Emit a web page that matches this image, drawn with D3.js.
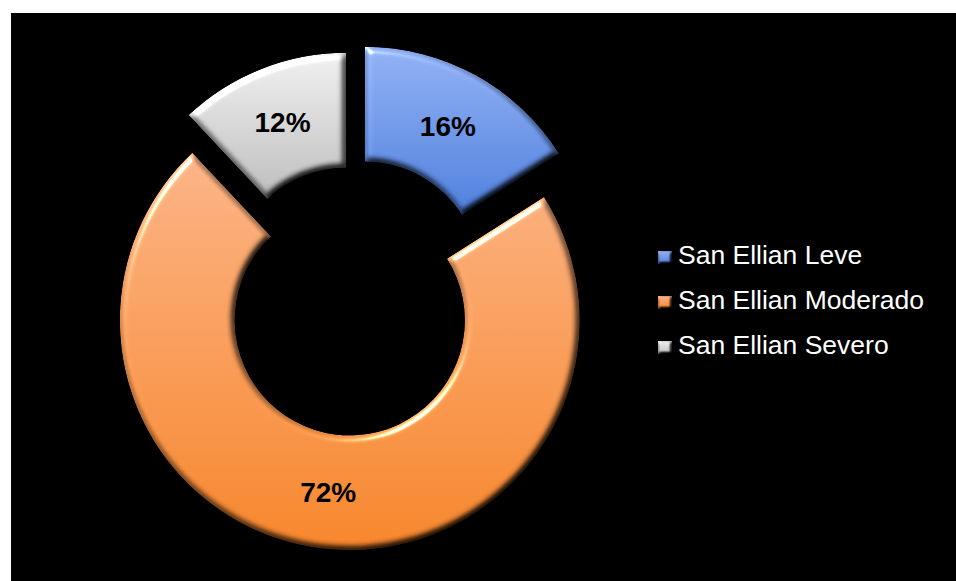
<!DOCTYPE html>
<html>
<head>
<meta charset="utf-8">
<script src="https://cdn.jsdelivr.net/npm/d3@7"></script>
<style>
  html, body { margin: 0; padding: 0; background: #ffffff; }
  svg { display: block; }
</style>
</head>
<body>
<svg id="chart" width="956" height="581"></svg>
<script>
// Severity categories and their share of cases (percent)
const categories = ["San Ellian Leve", "San Ellian Moderado", "San Ellian Severo"];
const values = [16, 72, 12];
const valueLabels = ["16%", "72%", "12%"];

// Per-category gradient (top colour, bottom colour)
const topColors = ["#93b1f4", "#fbb487", "#f0f0f0"];
const bottomColors = ["#4f80dd", "#f6862c", "#bdbdbd"];

const W = 956, H = 581;
const svg = d3.select("#chart");
const defs = svg.append("defs");

// Bevel: blurred alpha as a height map, darkened on the far side, glossed on the near side
const bevel = defs.append("filter")
  .attr("id", "bevel")
  .attr("x", "-5%").attr("y", "-5%").attr("width", "110%").attr("height", "110%")
  .attr("color-interpolation-filters", "sRGB");
bevel.append("feGaussianBlur").attr("in", "SourceAlpha").attr("stdDeviation", 3.5).attr("result", "blur");
bevel.append("feDiffuseLighting")
  .attr("in", "blur").attr("surfaceScale", 6).attr("diffuseConstant", 1.155)
  .attr("lighting-color", "#ffffff").attr("result", "diff")
  .append("feDistantLight").attr("azimuth", 235).attr("elevation", 60);
bevel.append("feComposite").attr("in", "SourceGraphic").attr("in2", "diff")
  .attr("operator", "arithmetic").attr("k1", 1).attr("result", "shaded");
bevel.append("feSpecularLighting")
  .attr("in", "blur").attr("surfaceScale", 6).attr("specularConstant", 0.9)
  .attr("specularExponent", 30).attr("lighting-color", "#ffffff").attr("result", "spec")
  .append("feDistantLight").attr("azimuth", 235).attr("elevation", 25);
bevel.append("feComposite").attr("in", "spec").attr("in2", "SourceAlpha")
  .attr("operator", "in").attr("result", "specIn");
bevel.append("feComposite").attr("in", "shaded").attr("in2", "specIn")
  .attr("operator", "arithmetic").attr("k2", 1).attr("k3", 1).attr("result", "lit");
bevel.append("feComposite").attr("in", "lit").attr("in2", "SourceAlpha").attr("operator", "in");

// Smaller bevel for legend keys
const bevelSmall = defs.append("filter")
  .attr("id", "bevelSmall")
  .attr("x", "-10%").attr("y", "-10%").attr("width", "120%").attr("height", "120%")
  .attr("color-interpolation-filters", "sRGB");
bevelSmall.append("feGaussianBlur").attr("in", "SourceAlpha").attr("stdDeviation", 1.6).attr("result", "blur");
bevelSmall.append("feDiffuseLighting")
  .attr("in", "blur").attr("surfaceScale", 4).attr("diffuseConstant", 1.155)
  .attr("lighting-color", "#ffffff").attr("result", "diff")
  .append("feDistantLight").attr("azimuth", 235).attr("elevation", 60);
bevelSmall.append("feComposite").attr("in", "SourceGraphic").attr("in2", "diff")
  .attr("operator", "arithmetic").attr("k1", 1).attr("result", "shaded");
bevelSmall.append("feComposite").attr("in", "shaded").attr("in2", "SourceAlpha").attr("operator", "in");

categories.forEach((c, i) => {
  const g = defs.append("linearGradient")
    .attr("id", "grad" + i)
    .attr("x1", 0).attr("y1", 0).attr("x2", 0).attr("y2", 1);
  g.append("stop").attr("offset", "0%").attr("stop-color", topColors[i]);
  g.append("stop").attr("offset", "100%").attr("stop-color", bottomColors[i]);
});

// Chart area background
svg.append("rect")
  .attr("x", 11).attr("y", 13)
  .attr("width", W - 11).attr("height", H - 13)
  .attr("fill", "#000000");

// Doughnut geometry; each slice is pulled out from the centre by its own distance
const cx = 352.5, cy = 299;
const outerR = 230, innerR = 115;
const explodeBySlice = [25.5, 21.5, 17.5];

const pie = d3.pie().sort(null).value(d => d.value);
const arcs = pie(categories.map((c, i) => ({ name: c, value: values[i], label: valueLabels[i], i })));
const arc = d3.arc().innerRadius(innerR).outerRadius(outerR);
const labelArc = d3.arc().innerRadius((innerR + outerR) / 2).outerRadius((innerR + outerR) / 2);

const root = svg.append("g").attr("transform", `translate(${cx},${cy})`);

const slices = root.selectAll("g.slice")
  .data(arcs)
  .join("g")
  .attr("class", "slice")
  .attr("transform", d => {
    const mid = (d.startAngle + d.endAngle) / 2;
    const e = explodeBySlice[d.data.i];
    return `translate(${e * Math.sin(mid)},${-e * Math.cos(mid)})`;
  });

slices.append("path")
  .attr("d", arc)
  .attr("fill", d => `url(#grad${d.data.i})`)
  .attr("filter", "url(#bevel)");

slices.append("text")
  .attr("transform", d => `translate(${labelArc.centroid(d)})`)
  .attr("text-anchor", "middle")
  .attr("dy", "0.36em")
  .attr("font-family", "Liberation Sans, Arial, sans-serif")
  .attr("font-weight", "bold")
  .attr("font-size", 28)
  .attr("fill", "#000000")
  .text(d => d.data.label);

// Legend
const legendY = d3.scalePoint().domain(categories).range([264, 354]);
const legend = svg.append("g");
const items = legend.selectAll("g.item")
  .data(categories)
  .join("g")
  .attr("class", "item")
  .attr("transform", d => `translate(658,${legendY(d)})`);

items.append("rect")
  .attr("x", 0).attr("y", -13)
  .attr("width", 14).attr("height", 13)
  .attr("fill", (d, i) => `url(#grad${i})`)
  .attr("filter", "url(#bevelSmall)");

items.append("text")
  .attr("x", 20).attr("y", 0)
  .attr("font-family", "Liberation Sans, Arial, sans-serif")
  .attr("font-size", 26.5)
  .attr("fill", "#ffffff")
  .text(d => d);
</script>
</body>
</html>
